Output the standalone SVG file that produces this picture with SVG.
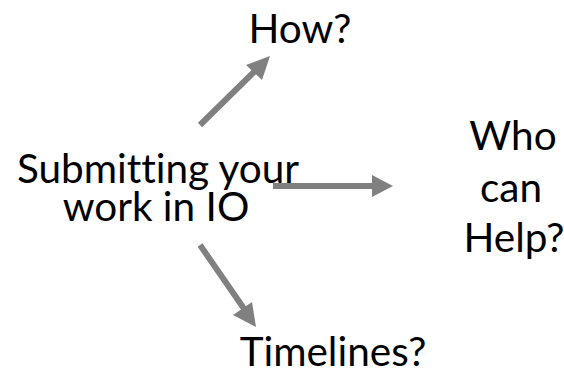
<svg xmlns="http://www.w3.org/2000/svg" width="564" height="373" viewBox="0 0 564 373">
<style>
text{font-family:Lato,"Open Sans","DejaVu Sans",sans-serif;font-size:40.5px;fill:#000;text-anchor:middle;font-variant-ligatures:none}
.c line{stroke:#808080;stroke-width:6}
.c polygon{fill:#808080}
</style>
<rect width="564" height="373" fill="#fff"/>
<g class="c" id="connectors">
<line x1="200" y1="125" x2="258" y2="68"/>
<polygon points="270,56 246,65 262,80"/>
<line x1="273" y1="186" x2="375" y2="186"/>
<polygon points="393,186 372,175 372,197"/>
<line x1="200" y1="245" x2="247" y2="313"/>
<polygon points="256,327 233,315 252,302"/>
</g>
<g id="center"><text x="158" y="183">Submitting your</text><text x="156" y="221">work in IO</text></g>
<g id="how"><text x="300" y="43">How?</text></g>
<g id="who"><text x="513" y="150">Who</text><text x="511" y="202">can</text><text x="514" y="252">Help?</text></g>
<g id="timelines"><text x="333" y="366">Timelines?</text></g>
</svg>
